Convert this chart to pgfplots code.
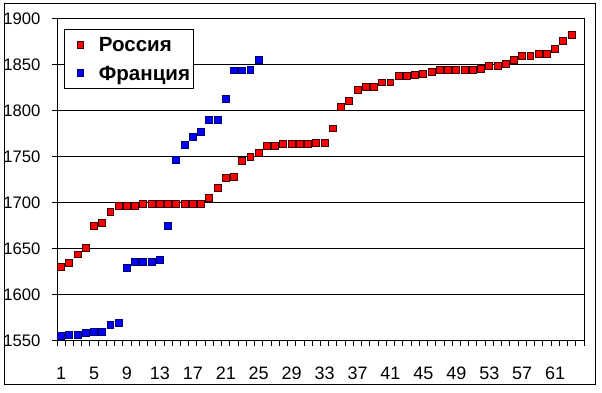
\documentclass[border=0pt]{standalone}
\usepackage{fontspec}
\setmainfont{Liberation Sans}
\usepackage{pgfplots}
\usepackage{pgfplotstable}
\pgfplotsset{compat=1.18}
\definecolor{rusred}{RGB}{255,0,0}
\definecolor{frblue}{RGB}{0,0,255}
\definecolor{frdark}{RGB}{0,0,110}
\definecolor{rusdark}{RGB}{60,0,0}

\pgfplotstableread{
x y
1 1630
2 1635
3 1644
4 1651
5 1675
6 1678
7 1690
8 1697
9 1697
10 1697
11 1699
12 1699
13 1699
14 1699
15 1699
16 1699
17 1699
18 1699
19 1705
20 1716
21 1727
22 1728
23 1746
24 1750
25 1754
26 1762
27 1762
28 1764
29 1764
30 1764
31 1764
32 1765
33 1765
34 1781
35 1804
36 1811
37 1823
38 1826
39 1826
40 1831
41 1831
42 1838
43 1838
44 1839
45 1840
46 1842
47 1845
48 1845
49 1845
50 1845
51 1845
52 1846
53 1849
54 1849
55 1851
56 1855
57 1860
58 1860
59 1862
60 1862
61 1867
62 1876
63 1883
}\russia

\pgfplotstableread{
x y
1 1555
2 1557
3 1557
4 1559
5 1560
6 1560
7 1567
8 1570
9 1629
10 1636
11 1636
12 1636
13 1638
14 1675
15 1747
16 1763
17 1772
18 1777
19 1790
20 1790
21 1813
22 1844
23 1844
24 1845
25 1855
}\france

\begin{document}
\begin{tikzpicture}
\useasboundingbox (0,0) rectangle (451.5pt,294pt);
\draw[line width=0.75pt] (3pt,6pt) rectangle (446.25pt,291pt);
\begin{axis}[
  at={(42.75pt,38.25pt)}, anchor=south west,
  scale only axis, width=395.25pt, height=241.5pt,
  xmin=0.5, xmax=64.5, ymin=1550, ymax=1900,
  clip=false,
  axis line style={black, line width=0.75pt},
  xtick={1,5,...,61},
  minor xtick={0.5,1.5,...,64.5},
  ytick={1550,1600,...,1900},
  tick align=outside, xtick pos=bottom, ytick pos=left,
  major tick length=3.75pt, minor tick length=3.75pt,
  major x tick style={draw=none},
  tick style={black, line width=0.75pt},
  ymajorgrids, grid style={black, line width=0.75pt},
  /pgf/number format/assume math mode=true,
  /pgf/number format/1000 sep={},
  yticklabel style={font=\fontsize{12.5}{14}\selectfont, inner sep=0pt, xshift=-8.5pt},
  xticklabel style={font=\fontsize{13.5}{15}\selectfont, inner sep=0pt, anchor=north, yshift=-15.5pt},
  legend style={at={(0.01385,0.968)}, anchor=north west, draw=black, line width=0.75pt,
    inner xsep=2.5pt, inner ysep=5.6pt, row sep=10.5pt, column sep=11.2pt,
    font=\bfseries\fontsize{15.4}{18}\selectfont,
    nodes={inner sep=0pt, text height=11pt, text depth=0pt, anchor=west}},
  legend image code/.code={\path (-8.9pt,0pt) (0pt,0pt); \draw[#1] plot coordinates {(0pt,0pt)};},
]
\addplot[only marks, mark=square*, mark size=2.6pt, mark options={fill=rusred, draw=rusdark, line width=0.75pt}] table[x=x,y=y] {\russia};
\addlegendentry{Россия}
\addplot[only marks, mark=square*, mark size=2.6pt, mark options={fill=frblue, draw=frdark, line width=0.75pt}] table[x=x,y=y] {\france};
\addlegendentry{Франция}
\end{axis}
\end{tikzpicture}
\end{document}
